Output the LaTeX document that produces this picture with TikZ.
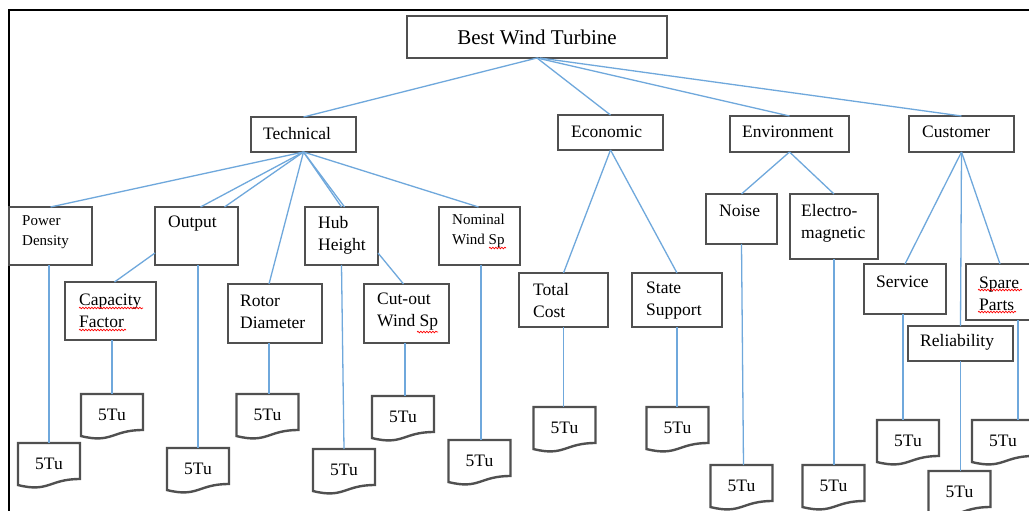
\documentclass[tikz,border=0pt]{standalone}
\usepackage{fontspec}
\setmainfont{Liberation Serif}
\usetikzlibrary{fit,calc,decorations.pathmorphing}
\definecolor{boxgray}{HTML}{505050}
\definecolor{linkblue}{HTML}{6FA8DC}
\newcommand\docpath[1]{\draw[boxline] (#1.north west) -- (#1.north east) -- ($(#1.north east)!0.8!(#1.south east)$) .. controls ($(#1.north)!0.8!(#1.south)$) and ($(#1.north)!1.107!(#1.south)$) .. ($(#1.north west)!0.934!(#1.south west)$) -- cycle;}
\begin{document}
\begin{tikzpicture}[x=1pt,y=-1pt,
 boxline/.style={draw=boxgray, line width=2.4pt},
 cbox/.style={boxline, inner sep=0pt, outer sep=0pt},
 docnode/.style={inner sep=0pt, outer sep=0pt, minimum width=62pt, minimum height=45pt, font=\fontsize{17.5}{21}\selectfont},
 lbl/.style={inner sep=0pt, anchor=west, align=left, font=\fontsize{17.5}{22}\selectfont},
 slbl/.style={lbl, font=\fontsize{15}{20}\selectfont},
 bigl/.style={inner sep=0pt, font=\fontsize{21}{24}\selectfont},
 conn/.style={draw=linkblue, line width=1.3pt},
 squig/.style={draw=red, line width=0.7pt, decorate, decoration={snake, amplitude=0.8pt, segment length=3pt}}]
\useasboundingbox (0,0) rectangle (1029,511);
\clip (0,0) rectangle (1029,511);
\fill[white] (0,0) rectangle (1029,511);

% frame
\draw[black, line width=2.5pt] (9,512) -- (9,10) -- (1030,10);

% boxes
\node[cbox, fit={(407,16) (667,58)}] (best) {};
\node[cbox, fit={(251,117) (356,152)}] (tech) {};
\node[cbox, fit={(558,115) (663,150)}] (econ) {};
\node[cbox, fit={(730,116) (849,152)}] (env) {};
\node[cbox, fit={(909,116) (1014,152)}] (cust) {};
\node[cbox, fit={(9,207) (92,265)}] (pd) {};
\node[cbox, fit={(155,207) (238,265)}] (out) {};
\node[cbox, fit={(305,207) (378,265)}] (hub) {};
\node[cbox, fit={(439,207) (520,265)}] (nom) {};
\node[cbox, fit={(65,282) (156,340)}] (cf) {};
\node[cbox, fit={(228,284) (322,343)}] (rot) {};
\node[cbox, fit={(364,284) (449,343)}] (cut) {};
\node[cbox, fit={(519,273) (608,327)}] (tc) {};
\node[cbox, fit={(632,273) (722,327)}] (ss) {};
\node[cbox, fit={(706,194) (777,244)}] (noise) {};
\node[cbox, fit={(790,194) (878,259)}] (em) {};
\node[cbox, fit={(864,264) (946,314)}] (serv) {};
\node[cbox, fit={(966,264) (1048,320)}] (spare) {};
\node[cbox, fit={(908,326) (1013,361)}] (rel) {};

% labels
\node[bigl] (bestl) at (537,37) {Best Wind Turbine};
\node[lbl] (techl) at (263,134) {Technical};
\node[lbl] (econl) at (571,132) {Economic};
\node[lbl] (envl) at (742,132) {Environment};
\node[lbl] (custl) at (922,132) {Customer};
\node[slbl] (pdl) at (22,232) {Power\\Density};
\node[lbl] (outl) at (168,224) {Output};
\node[lbl] (hubl) at (318,235) {Hub\\Height};
\node[slbl] (noml) at (452,231) {Nominal\\Wind Sp};
\node[lbl] (cfl) at (79,311) {Capacity\\Factor};
\node[lbl] (rotl) at (240,312) {Rotor\\Diameter};
\node[lbl] (cutl) at (377,312) {Cut-out\\Wind Sp};
\node[lbl] (tcl) at (533,301) {Total\\Cost};
\node[lbl] (ssl) at (646,301) {State\\Support};
\node[lbl] (noisel) at (719,211) {Noise};
\node[lbl] (eml) at (801,223) {Electro-\\magnetic};
\node[lbl] (servl) at (876,282) {Service};
\node[lbl] (sparel) at (979,294) {Spare\\Parts};
\node[lbl] (rell) at (920,342) {Reliability};

% spelling squiggles
\draw[squig] (79,308) -- (143,308);
\draw[squig] (79,330) -- (126,330);
\draw[squig] (489,248) -- (506,248);
\draw[squig] (417,332) -- (438,332);
\draw[squig] (978,290) -- (1022,290);
\draw[squig] (978,312) -- (1016,312);

% documents
\node[docnode] (pd5) at (49,465.5) {\raisebox{2.5pt}{5Tu}};
\node[docnode] (cf5) at (112,416.5) {\raisebox{2.5pt}{5Tu}};
\node[docnode] (out5) at (198,470.5) {\raisebox{2.5pt}{5Tu}};
\node[docnode] (rot5) at (267.5,416.5) {\raisebox{2.5pt}{5Tu}};
\node[docnode] (hub5) at (344,471.5) {\raisebox{2.5pt}{5Tu}};
\node[docnode] (cut5) at (403,418.5) {\raisebox{2.5pt}{5Tu}};
\node[docnode] (nom5) at (479.5,462.5) {\raisebox{2.5pt}{5Tu}};
\node[docnode] (tc5) at (564.5,429.5) {\raisebox{2.5pt}{5Tu}};
\node[docnode] (ss5) at (677.5,429.5) {\raisebox{2.5pt}{5Tu}};
\node[docnode] (noi5) at (741.5,487.5) {\raisebox{2.5pt}{5Tu}};
\node[docnode] (em5) at (833.5,487.5) {\raisebox{2.5pt}{5Tu}};
\node[docnode] (ser5) at (908,442.5) {\raisebox{2.5pt}{5Tu}};
\node[docnode] (rel5) at (959.5,493.5) {\raisebox{2.5pt}{5Tu}};
\node[docnode] (spa5) at (1003,442.5) {\raisebox{2.5pt}{5Tu}};
\foreach \d in {pd5,cf5,out5,rot5,hub5,cut5,nom5,tc5,ss5,noi5,em5,ser5,rel5,spa5}{\docpath{\d}}

% connectors
\draw[conn] (best.south) -- (tech.north);
\draw[conn] (best.south) -- (econ.north);
\draw[conn] (best.south) -- (env.north);
\draw[conn] ([xshift=3pt]best.south) -- (cust.north);
\draw[conn] (tech.south) -- (pd.north);
\draw[conn] (tech.south) -- ([xshift=4pt]out.north);
\draw[conn] (tech.south) -- ([xshift=28pt]out.north);
\draw[conn] (tech.south) -- ([xshift=-6pt]rot.north);
\draw[conn] (tech.south) -- (hub.north);
\draw[conn] (tech.south) -- ([xshift=3pt]hub.north);
\draw[conn] (tech.south) -- ([xshift=-1pt]nom.north);
\draw[conn] ([yshift=-17pt]out.west) -- ([xshift=4pt]cf.north);
\draw[conn] ([yshift=-17pt]hub.east) -- ([xshift=-3pt]cut.north);
\draw[conn] (econ.south) -- (tc.north);
\draw[conn] (econ.south) -- (ss.north);
\draw[conn] (env.south) -- (noise.north);
\draw[conn] (env.south) -- (em.north);
\draw[conn] (cust.south) -- (serv.north);
\draw[conn] (cust.south) -- (rel.north);
\draw[conn] (cust.south) -- ([xshift=-7pt]spare.north);

\draw[conn] (pd5.north |- pd.south) -- (pd5.north);
\draw[conn] (cf5.north |- cf.south) -- (cf5.north);
\draw[conn] (out5.north |- out.south) -- (out5.north);
\draw[conn] ([xshift=1.5pt]rot5.north |- rot.south) -- ([xshift=1.5pt]rot5.north);
\draw[conn] (hub.south) -- (hub5.north);
\draw[conn] ([xshift=2pt]cut5.north |- cut.south) -- ([xshift=2pt]cut5.north);
\draw[conn] ([xshift=1.5pt]nom5.north |- nom.south) -- ([xshift=1.5pt]nom5.north);
\draw[conn] (tc.south) -- (tc.south |- tc5.north);
\draw[conn] (ss.south) -- (ss.south |- ss5.north);
\draw[conn] (noise.south) -- ([xshift=2pt]noi5.north);
\draw[conn] (em.south) -- (em.south |- em5.north);
\draw[conn] ([xshift=-2pt]serv.south) -- ([xshift=-2pt]serv.south |- ser5.north);
\draw[conn] (rel.south) -- (rel.south |- rel5.north);
\draw[conn] ([xshift=15pt]spa5.north |- spare.south) -- ([xshift=15pt]spa5.north);
\end{tikzpicture}
\end{document}
